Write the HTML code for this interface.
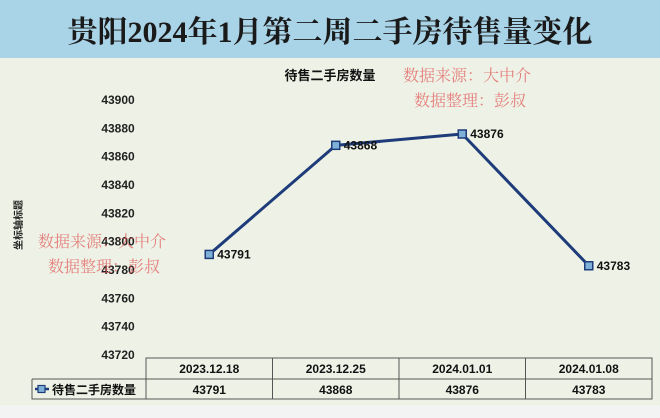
<!DOCTYPE html>
<html><head><meta charset="utf-8"><style>
body{margin:0;width:660px;height:418px;overflow:hidden;background:#eef2e6;font-family:"Liberation Sans","Noto Sans CJK SC",sans-serif;}
</style></head><body>
<div style="position:absolute;left:0;top:0;width:660px;height:58px;background:#a9d3e7;"></div>
<div style="position:absolute;left:0;top:7px;width:660px;text-align:center;font-family:'Liberation Serif','Noto Serif CJK SC',serif;font-size:30px;font-weight:bold;color:#1a1a1a;">贵阳2024年1月第二周二手房待售量变化</div>
<div style="position:absolute;left:0;top:405px;width:660px;height:13px;background:#f3f3f3;"></div>
<svg id="c" width="660" height="418" style="position:absolute;left:0;top:0"></svg>
<script>
const categories=["2023.12.18","2023.12.25","2024.01.01","2024.01.08"];
const values=[43791,43868,43876,43783];
const yTicks=[43720,43740,43760,43780,43800,43820,43840,43860,43880,43900];
const seriesName="待售二手房数量";
const svg=document.getElementById('c');const NS="http://www.w3.org/2000/svg";
function mk(t,a,txt){const e=document.createElementNS(NS,t);for(const k in a)e.setAttribute(k,a[k]);if(txt!=null)e.textContent=txt;svg.appendChild(e);return e;}
const x0=146,x1=652,yMin=43720,yMax=43900,yTop=100,yBot=355;
const bw=(x1-x0)/categories.length;
const xs=i=>x0+bw*(i+0.5);
const ys=v=>yBot-(v-yMin)/(yMax-yMin)*(yBot-yTop);
let e=mk('text',{x:330,y:80,'text-anchor':'middle','font-size':13,'font-weight':'bold',fill:'#111'},seriesName);


yTicks.forEach(v=>{const t=mk('text',{x:118,y:ys(v)+4,'text-anchor':'middle','font-size':12,'font-weight':'bold',fill:'#222'},v);

});
e=mk('text',{x:22,y:225,'text-anchor':'middle','font-size':10,'font-weight':'bold',fill:'#222',transform:'rotate(-90 22 225)'},'坐标轴标题');


let d=values.map((v,i)=>(i?'L':'M')+xs(i)+' '+ys(v)).join(' ');
e=mk('path',{d:d,fill:'none',stroke:'#1e3c7a','stroke-width':3,'stroke-linejoin':'round'});


values.forEach((v,i)=>{const m=mk('rect',{x:xs(i)-4,y:ys(v)-4,width:8,height:8,fill:'#7fb0d8',stroke:'#1e3c7a','stroke-width':1.5});


const l=mk('text',{x:xs(i)+8,y:ys(v)+4,'font-size':12,'font-weight':'bold',fill:'#111'},v);

});
const tT=358,tM=379,tB=399,lx=32;
e=mk('rect',{x:x0,y:tT,width:x1-x0,height:tB-tT,fill:'none',stroke:'#555','stroke-width':1});


e=mk('path',{d:`M${lx} ${tM}H${x1}M${lx} ${tM}V${tB}H${x0}`,fill:'none',stroke:'#555','stroke-width':1});


categories.forEach((c,i)=>{if(i>0){const g=mk('line',{x1:x0+bw*i,y1:tT,x2:x0+bw*i,y2:tB,stroke:'#555'});

}
const h=mk('text',{x:xs(i),y:tT+15,'text-anchor':'middle','font-size':12,'font-weight':'bold',fill:'#111'},c);


const t=mk('text',{x:xs(i),y:tM+15,'text-anchor':'middle','font-size':12,'font-weight':'bold',fill:'#111'},values[i]);

});
e=mk('path',{d:`M${lx+3} ${tM+10}h14`,stroke:'#1e3c7a','stroke-width':2.5});


e=mk('rect',{x:lx+6,y:tM+6.5,width:7,height:7,fill:'#7fb0d8',stroke:'#1e3c7a','stroke-width':1.2});


e=mk('text',{x:lx+20,y:tM+15,'font-size':12,'font-weight':'bold',fill:'#111'},seriesName);


[[403,81,'数据来源：大中介'],[414,106,'数据整理：彭叔'],[38,247,'数据来源：大中介'],[48,272,'数据整理：彭叔']].forEach(w=>{
const t=mk('text',{x:w[0],y:w[1],'font-size':16,fill:'#e05a5a','fill-opacity':0.75,'font-family':"'Liberation Serif','Noto Serif CJK SC',serif"},w[2]);

});
</script>
</body></html>
